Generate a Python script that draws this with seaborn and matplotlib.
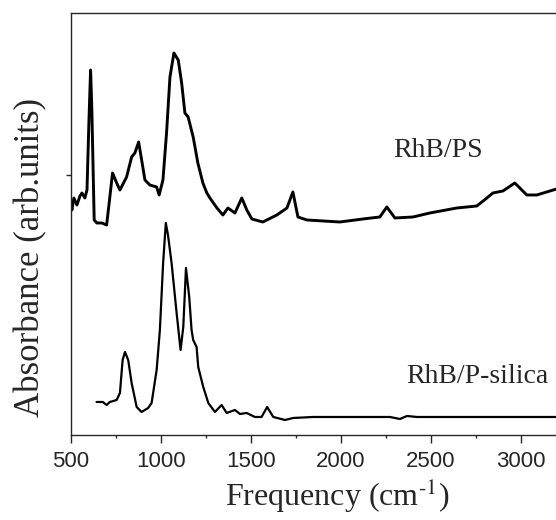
import matplotlib
matplotlib.use("Agg")
import matplotlib.pyplot as plt
import numpy as np
import pandas as pd
import seaborn as sns
from matplotlib.ticker import MultipleLocator

# RhB/PS spectrum (wavenumber, absorbance in arb. units)
ps_wavenumber = [502, 507, 518, 535, 552, 563, 579, 591, 602, 611, 618, 631, 646, 674,
                 700, 713, 733, 756, 774, 811, 839, 857, 878, 913, 940, 978, 992, 1013,
                 1033, 1052, 1074, 1098, 1117, 1135, 1153, 1181, 1207, 1235, 1257, 1274,
                 1313, 1346, 1374, 1413, 1451, 1479, 1507, 1568, 1646, 1702, 1735, 1763,
                 1813, 1996, 2124, 2218, 2257, 2302, 2402, 2496, 2646, 2757, 2813, 2846,
                 2902, 2968, 3007, 3035, 3090, 3200]
ps_absorbance = [2.32, 2.25, 2.37, 2.30, 2.39, 2.42, 2.37, 2.45, 3.15, 3.65, 3.25, 2.15,
                 2.12, 2.12, 2.10, 2.30, 2.62, 2.52, 2.45, 2.58, 2.78, 2.82, 2.93, 2.55,
                 2.50, 2.48, 2.40, 2.55, 3.02, 3.58, 3.82, 3.75, 3.52, 3.22, 3.18, 2.98,
                 2.72, 2.52, 2.42, 2.37, 2.27, 2.20, 2.27, 2.22, 2.37, 2.25, 2.16, 2.13,
                 2.20, 2.27, 2.43, 2.18, 2.15, 2.13, 2.16, 2.18, 2.28, 2.17, 2.18, 2.22,
                 2.27, 2.29, 2.37, 2.42, 2.44, 2.52, 2.45, 2.40, 2.40, 2.46]

# RhB/P-silica spectrum
si_wavenumber = [644, 679, 700, 718, 756, 774, 789, 802, 820, 839, 867, 894, 931, 950,
                 978, 996, 1014, 1029, 1041, 1061, 1089, 1111, 1126, 1141, 1159, 1172,
                 1181, 1200, 1209, 1237, 1265, 1302, 1339, 1367, 1413, 1441, 1478, 1524,
                 1561, 1592, 1626, 1691, 1737, 1848, 1996, 2124, 2274, 2330, 2369, 2424,
                 3200]
si_absorbance = [0.33, 0.33, 0.30, 0.33, 0.35, 0.42, 0.75, 0.83, 0.75, 0.52, 0.28, 0.23,
                 0.27, 0.32, 0.65, 1.05, 1.72, 2.12, 2.00, 1.72, 1.22, 0.85, 1.08, 1.67,
                 1.38, 1.05, 0.95, 0.88, 0.68, 0.48, 0.32, 0.23, 0.30, 0.22, 0.25, 0.21,
                 0.22, 0.18, 0.18, 0.28, 0.18, 0.15, 0.17, 0.18, 0.18, 0.18, 0.18, 0.16,
                 0.19, 0.18, 0.18]

sns.set_style("ticks")
plt.rcParams.update({
    "font.family": ["Liberation Serif", "DejaVu Serif"],
    "mathtext.fontset": "stix",
    "axes.linewidth": 1.0,
})

ps = pd.DataFrame({"wavenumber": ps_wavenumber, "absorbance": ps_absorbance})
si = pd.DataFrame({"wavenumber": si_wavenumber, "absorbance": si_absorbance})

fig = plt.figure(figsize=(5.56, 5.20), dpi=100)
ax = fig.add_axes([0.127, 0.1635, 0.874, 0.8115])

sns.lineplot(data=ps, x="wavenumber", y="absorbance", color="black", linewidth=2.1,
             estimator=None, ax=ax)
sns.lineplot(data=si, x="wavenumber", y="absorbance", color="black", linewidth=1.6,
             estimator=None, ax=ax)

ax.set_xlim(500, 3200)
ax.set_ylim(0, 4.22)
ax.xaxis.set_major_locator(MultipleLocator(500))
ax.xaxis.set_minor_locator(MultipleLocator(250))
ax.set_yticks([2.6])
ax.set_yticklabels([])
ax.tick_params(axis="x", which="major", length=5.5, width=1.0, labelsize=16, pad=6)
ax.tick_params(axis="x", which="minor", length=2.5, width=1.0)
ax.tick_params(axis="y", length=3.5, width=1.0)
for lab in ax.get_xticklabels():
    lab.set_family(["Liberation Sans", "DejaVu Sans"])

ax.spines["right"].set_visible(False)

ax.set_xlabel("Frequency (cm$^{\\text{-1}}$)", fontsize=23)
ax.set_ylabel("Absorbance (arb.units)", fontsize=25)
ax.xaxis.set_label_coords(0.548, -0.10)
ax.yaxis.set_label_coords(-0.047, 0.42)

ax.text(2291, 2.78, "RhB/PS", fontsize=20, ha="left", va="baseline")
ax.text(2363, 0.52, "RhB/P-silica", fontsize=20, ha="left", va="baseline")

fig.savefig("out.png", dpi=100)
